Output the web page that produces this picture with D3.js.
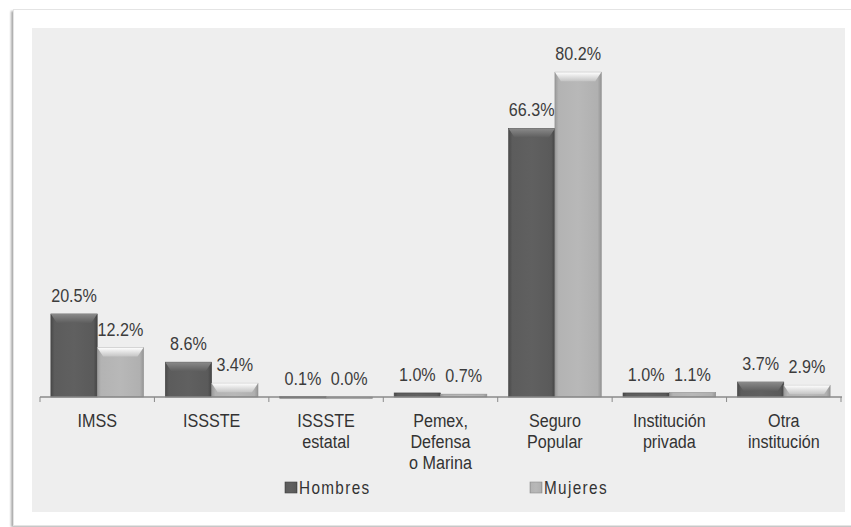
<!DOCTYPE html>
<meta charset="utf-8">
<style>
body { margin: 0; background: #fff; }
text { font-family: "Liberation Sans", Arial, sans-serif; }
.val { font-size: 19px; fill: #3c3c3c; }
.cat { font-size: 19px; fill: #333; }
.leg { font-size: 18px; fill: #333; letter-spacing: 1.6px; }
</style>
<body>
<script src="https://d3js.org/d3.v7.min.js"></script>
<script>

// data
var categories = [["IMSS"], ["ISSSTE"], ["ISSSTE", "estatal"], ["Pemex,", "Defensa", "o Marina"],
                  ["Seguro", "Popular"], ["Institución", "privada"], ["Otra", "institución"]];
var series = ["Hombres", "Mujeres"];
var hombres = [20.5, 8.6, 0.1, 1.0, 66.3, 1.0, 3.7];
var mujeres = [12.2, 3.4, 0.0, 0.7, 80.2, 1.1, 2.9];

var width = 851, height = 527;
var narrow = 0.85; // squeeze text like a narrow face

var svg = d3.select("body").append("svg")
    .attr("width", width)
    .attr("height", height);

var defs = svg.append("defs");

// bar shading, dark and light
function grad(id, stops) {
  var g = defs.append("linearGradient").attr("id", id)
      .attr("x1", 0).attr("x2", 1).attr("y1", 0).attr("y2", 0);
  stops.forEach(function(s) {
    g.append("stop").attr("offset", s[0]).attr("stop-color", s[1]);
  });
}
grad("gH", [[0, "#4a4a4a"], [0.08, "#5c5c5c"], [0.5, "#606060"], [0.92, "#5a5a5a"], [1, "#444"]]);
grad("gM", [[0, "#9a9a9a"], [0.08, "#b3b3b3"], [0.5, "#b8b8b8"], [0.92, "#b0b0b0"], [1, "#959595"]]);
var topH = defs.append("linearGradient").attr("id", "tH").attr("x1", 0).attr("x2", 0).attr("y1", 0).attr("y2", 1);
topH.append("stop").attr("offset", 0).attr("stop-color", "#8a8a8a");
topH.append("stop").attr("offset", 1).attr("stop-color", "#5e5e5e");
var topM = defs.append("linearGradient").attr("id", "tM").attr("x1", 0).attr("x2", 0).attr("y1", 0).attr("y2", 1);
topM.append("stop").attr("offset", 0).attr("stop-color", "#ffffff");
topM.append("stop").attr("offset", 1).attr("stop-color", "#c4c4c4");

var sh = defs.append("filter").attr("id", "blur").attr("x", "-10%").attr("y", "-10%").attr("width", "120%").attr("height", "120%");
sh.append("feGaussianBlur").attr("stdDeviation", 1.2);

// outer frame with shadow
svg.append("rect").attr("x", 11).attr("y", 11).attr("width", 850).attr("height", 516)
    .attr("fill", "#aaa").attr("filter", "url(#blur)");
svg.append("rect").attr("x", 13.5).attr("y", 9.5).attr("width", 850).attr("height", 516)
    .attr("fill", "#fff").attr("stroke", "#e4e4e4");

// plot panel
svg.append("rect").attr("x", 32).attr("y", 28).attr("width", 813).attr("height", 484)
    .attr("fill", "#eeeeee");

var axisY = 397;
var x0 = d3.scaleBand()
    .domain(d3.range(categories.length))
    .range([40, 841])
    .paddingInner(0.19)
    .paddingOuter(0.095);
var x1 = d3.scaleBand()
    .domain(series)
    .range([0, x0.bandwidth()]);
var y = d3.scaleLinear()
    .domain([0, 90])
    .range([axisY, axisY - 90 * 4.05]);

var rows = categories.map(function(c, i) {
  return [{s: "Hombres", v: hombres[i]}, {s: "Mujeres", v: mujeres[i]}];
});

var groups = svg.selectAll(".grp")
  .data(rows)
  .enter().append("g")
    .attr("class", "grp")
    .attr("transform", function(d, i) { return "translate(" + x0(i) + ",0)"; });

var bars = groups.selectAll(".bar")
  .data(function(d) { return d; })
  .enter().append("g")
    .attr("class", "bar");

bars.append("rect")
    .attr("x", function(d) { return x1(d.s); })
    .attr("y", function(d) { return y(d.v); })
    .attr("width", x1.bandwidth())
    .attr("height", function(d) { return Math.max(axisY - y(d.v), 1.5); })
    .attr("fill", function(d) { return d.s == "Hombres" ? "url(#gH)" : "url(#gM)"; })
    .attr("stroke", function(d) { return d.s == "Hombres" ? "#444" : "#8e8e8e"; })
    .attr("stroke-width", 0.6);

// top bevel
bars.filter(function(d) { return axisY - y(d.v) > 8; })
  .append("path")
    .attr("d", function(d) {
      var xa = x1(d.s), w = x1.bandwidth(), t = y(d.v), b = 6;
      return "M" + xa + "," + t + "H" + (xa + w) + "L" + (xa + w - b) + "," + (t + b + 3) +
             "H" + (xa + b) + "Z";
    })
    .attr("fill", function(d) { return d.s == "Hombres" ? "url(#tH)" : "url(#tM)"; });

bars.append("text")
    .attr("class", "val")
    .attr("transform", function(d) {
      return "translate(" + (x1(d.s) + x1.bandwidth() / 2) + "," + (y(d.v) - 12) + ") scale(" + narrow + ",1)";
    })
    .attr("text-anchor", "middle")
    .text(function(d) { return d.v.toFixed(1) + "%"; });

// axis line and ticks
svg.append("line").attr("x1", 40).attr("x2", 842).attr("y1", axisY).attr("y2", axisY)
    .attr("stroke", "#8a8a8a").attr("stroke-width", 1.5);
var step = x0.step();
svg.selectAll(".tick")
  .data(d3.range(categories.length + 1))
  .enter().append("line")
    .attr("x1", function(i) { return 40 + i * step; })
    .attr("x2", function(i) { return 40 + i * step; })
    .attr("y1", axisY).attr("y2", axisY + 5)
    .attr("stroke", "#8a8a8a");

// category labels
svg.selectAll(".cat")
  .data(categories)
  .enter().append("text")
    .attr("class", "cat")
    .attr("text-anchor", "middle")
    .attr("transform", function(d, i) {
      return "translate(" + (x0(i) + x0.bandwidth() / 2) + ",427) scale(" + narrow + ",1)";
    })
    .each(function(d) {
      var t = d3.select(this);
      d.forEach(function(line, j) {
        t.append("tspan")
          .attr("x", 0)
          .attr("dy", j == 0 ? 0 : 21)
          .text(line);
      });
    });

// legend
var legX = [285, 530];
var leg = svg.selectAll(".legi")
  .data(series)
  .enter().append("g")
    .attr("transform", function(d, i) { return "translate(" + legX[i] + ",482)"; });
leg.append("rect")
    .attr("width", 12).attr("height", 11)
    .attr("fill", function(d, i) { return i == 0 ? "url(#gH)" : "url(#gM)"; })
    .attr("stroke", function(d, i) { return i == 0 ? "#444" : "#8e8e8e"; })
    .attr("stroke-width", 0.6);
leg.append("text")
    .attr("class", "leg")
    .attr("transform", "translate(14,12) scale(" + narrow + ",1)")
    .text(function(d) { return d; });

</script>
</body>
